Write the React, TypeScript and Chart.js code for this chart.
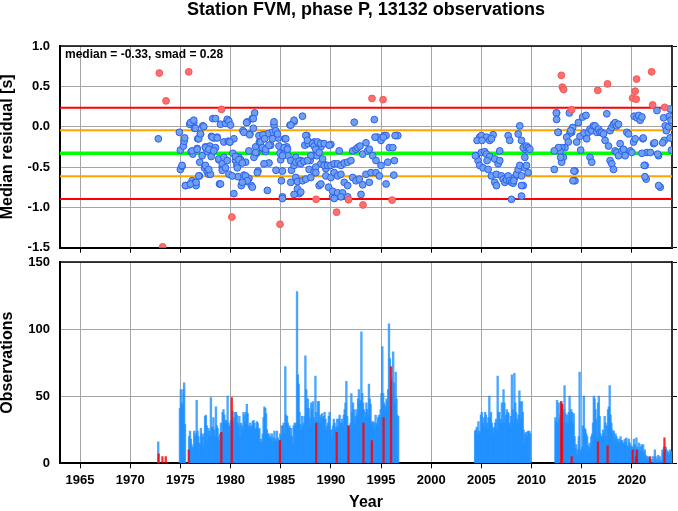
import React, { useEffect, useRef } from "react";
import { Chart, registerables } from "chart.js";
Chart.register(...registerables);

const TITLE = "Station FVM, phase P, 13132 observations";
const STATS_LABEL = "median = -0.33, smad = 0.28";
const X_LABEL = "Year";
const Y_TOP_LABEL = "Median residual [s]";
const Y_BOTTOM_LABEL = "Observations";
const X_MIN = 1963;
const X_MAX = 2024;
const X_TICKS = [1965, 1970, 1975, 1980, 1985, 1990, 1995, 2000, 2005, 2010, 2015, 2020];
const RESID_MIN = -1.5;
const RESID_MAX = 1.0;
const RESID_STEP = 0.5;
const OBS_MIN = 0;
const OBS_MAX = 150;
const OBS_STEP = 50;

const RED_LINE_LEVELS = [0.235, -0.895];
const ORANGE_LINE_LEVELS = [-0.045, -0.615];
const MEDIAN_LEVEL = -0.33;

// [year, median residual]
const inliers: [number, number][] = [
  [1972.8, -0.15], [1974.9, -0.07], [1975.0, -0.29], [1975.0, -0.53], [1975.17, -0.49], [1975.3, -0.24],
  [1975.37, -0.18], [1975.43, -0.14], [1975.53, -0.73], [1975.93, 0.03], [1976.33, 0.05], [1976.4, -0.02],
  [1976.07, -0.31], [1976.23, -0.34], [1976.17, -0.67], [1975.9, -0.72], [1976.5, -0.69], [1976.57, -0.73],
  [1976.67, -0.27], [1976.73, -0.15], [1976.9, -0.61], [1977.0, -0.09], [1976.93, -0.44], [1977.23, 0.01],
  [1977.4, -0.51], [1977.5, -0.25], [1977.67, -0.56], [1977.83, -0.59], [1977.67, -0.31], [1977.93, -0.24],
  [1978.07, -0.37], [1978.23, 0.10], [1978.1, -0.12], [1978.33, -0.14], [1978.5, -0.26], [1978.67, -0.13],
  [1978.83, -0.41], [1978.9, -0.71], [1979.0, 0.03], [1979.17, -0.50], [1979.17, -0.54], [1979.33, -0.19],
  [1979.5, 0.04], [1979.67, 0.09], [1979.77, -0.18], [1979.83, 0.07], [1979.93, -0.19], [1980.0, 0.02],
  [1980.23, -0.33], [1980.33, -0.83], [1980.5, -0.42], [1980.63, -0.48], [1980.73, -0.62], [1980.83, -0.38],
  [1981.0, -0.41], [1981.07, -0.73], [1981.23, -0.05], [1981.33, -0.60], [1981.5, -0.44], [1981.6, -0.68],
  [1981.67, 0.06], [1981.83, -0.64], [1981.93, -0.09], [1982.07, -0.73], [1982.17, 0.10], [1982.27, -0.02],
  [1982.4, 0.17], [1982.5, -0.25], [1982.6, -0.33], [1982.73, -0.55], [1982.87, -0.19], [1983.0, -0.11],
  [1983.17, -0.27], [1983.33, -0.13], [1983.5, -0.31], [1983.67, -0.79], [1983.83, -0.45], [1984.0, -0.23],
  [1984.13, -0.07], [1984.33, 0.02], [1984.53, -0.54], [1984.73, -0.14], [1984.93, -0.33], [1985.07, -0.67],
  [1985.17, -0.87], [1985.27, -0.34], [1985.4, -0.15], [1985.6, -0.25], [1985.73, -0.36], [1985.93, 0.02],
  [1986.07, -0.54], [1986.33, 0.06], [1986.5, -0.38], [1986.67, -0.67], [1986.83, -0.83], [1987.0, -0.42],
  [1987.17, 0.13], [1987.4, -0.23], [1987.6, -0.11], [1987.73, -0.21], [1987.93, -0.42], [1988.17, -0.36],
  [1988.33, -0.19], [1988.6, -0.36], [1988.83, -0.73], [1989.0, -0.25], [1989.27, -0.46], [1989.5, -0.52],
  [1989.77, -0.75], [1990.0, -0.22], [1990.17, -0.87],
  [1978.5, 0.10], [1980.33, -0.15], [1979.93, -0.19], [1980.5, -0.37], [1980.83, -0.41], [1981.17, -0.45],
  [1980.67, -0.51], [1981.5, -0.61], [1981.67, -0.67], [1981.17, -0.69], [1982.17, -0.75], [1982.67, -0.57],
  [1982.33, -0.38], [1981.83, -0.30], [1982.5, -0.32], [1983.0, -0.19], [1982.83, -0.11], [1983.17, -0.26],
  [1983.33, -0.46], [1983.5, -0.28], [1983.67, -0.09], [1983.83, -0.23], [1984.17, -0.15], [1984.33, 0.06],
  [1984.5, -0.05], [1984.67, -0.09], [1984.83, -0.24], [1985.0, -0.41], [1985.17, -0.55], [1981.33, -0.07],
  [1981.6, 0.05], [1982.27, 0.10], [1981.9, -0.10], [1983.23, -0.10], [1983.4, -0.15],
  [1976.0, 0.05], [1976.33, 0.08], [1977.33, 0.0], [1976.5, -0.02], [1976.83, -0.15], [1977.0, -0.09],
  [1978.17, -0.13], [1978.67, -0.14], [1976.17, -0.30], [1976.67, -0.28], [1977.17, -0.36], [1977.5, -0.26],
  [1977.83, -0.28], [1978.33, -0.30], [1978.83, -0.40], [1979.17, -0.46], [1979.33, -0.38], [1979.5, -0.51],
  [1979.83, -0.59], [1980.17, -0.61], [1977.5, -0.48], [1978.0, -0.59], [1976.83, -0.61], [1975.5, -0.73],
  [1976.0, -0.71], [1976.57, -0.69], [1979.0, -0.71], [1975.17, -0.48], [1977.83, -0.53], [1979.67, -0.42],
  [1986.33, 0.08], [1986.0, 0.02], [1985.5, -0.15], [1985.33, -0.26], [1985.67, -0.28], [1985.17, -0.36],
  [1986.0, -0.42], [1986.33, -0.48], [1986.5, -0.44], [1986.83, -0.43], [1987.0, -0.46], [1987.33, -0.43],
  [1987.5, -0.11], [1987.67, -0.17], [1988.17, -0.21], [1988.33, -0.24], [1988.67, -0.19], [1989.0, -0.21],
  [1989.33, -0.21], [1989.83, -0.23], [1988.5, -0.28], [1988.83, -0.32], [1988.0, -0.36], [1987.67, -0.42],
  [1987.83, -0.53], [1988.33, -0.56], [1988.5, -0.50], [1989.0, -0.46], [1989.17, -0.40], [1989.33, -0.48],
  [1989.67, -0.48], [1990.0, -0.48], [1990.33, -0.46], [1990.67, -0.46], [1990.83, -0.30], [1991.0, -0.48],
  [1991.33, -0.45], [1991.67, -0.44], [1992.0, -0.42], [1992.17, -0.30], [1992.5, -0.28], [1992.67, -0.26],
  [1992.9, -0.24], [1993.17, -0.34], [1993.5, -0.20], [1993.67, -0.30], [1993.83, -0.28], [1994.17, -0.36],
  [1994.5, -0.42], [1994.67, -0.13], [1995.0, -0.17], [1995.33, -0.11], [1995.5, -0.11], [1995.83, -0.26],
  [1996.17, -0.26], [1996.5, -0.11], [1996.67, -0.11], [1996.33, -0.42], [1992.33, 0.055], [1994.33, 0.088],
  [1986.5, -0.63], [1986.0, -0.69], [1986.67, -0.68], [1987.17, -0.67], [1987.5, -0.65], [1988.0, -0.63],
  [1988.5, -0.57], [1989.0, -0.71], [1989.5, -0.61], [1990.0, -0.63], [1990.33, -0.57], [1990.67, -0.61],
  [1991.0, -0.59], [1991.33, -0.69], [1991.67, -0.73], [1992.17, -0.63], [1992.5, -0.67], [1992.83, -0.65],
  [1993.17, -0.72], [1993.5, -0.59], [1993.83, -0.69], [1994.0, -0.57], [1994.5, -0.57], [1994.83, -0.61],
  [1995.5, -0.71], [1996.27, -0.60], [1986.67, -0.77], [1987.0, -0.81], [1986.33, -0.84], [1990.17, -0.80],
  [1990.67, -0.82], [1991.17, -0.82], [1991.67, -0.87], [1993.0, -0.84], [1985.17, -0.89], [1990.33, -0.89],
  [1991.0, -0.87], [1995.0, -0.48], [1995.67, -0.44], [1996.4, -0.11], [1995.23, -0.13], [1994.4, -0.13],
  [2004.83, -0.13], [2005.0, -0.11], [2005.5, -0.13], [2005.83, -0.17], [2006.17, -0.10], [2006.0, -0.15],
  [2004.5, -0.36], [2004.67, -0.42], [2004.83, -0.48], [2005.17, -0.51], [2005.0, -0.32], [2005.33, -0.31],
  [2005.5, -0.34], [2005.83, -0.37], [2005.67, -0.53], [2006.0, -0.61], [2006.33, -0.69], [2006.5, -0.73],
  [2006.33, -0.40], [2006.67, -0.46], [2006.83, -0.42], [2006.5, -0.59], [2007.0, -0.61], [2007.17, -0.65],
  [2007.33, -0.69], [2007.5, -0.66], [2007.67, -0.61], [2007.83, -0.67], [2008.0, -0.69], [2008.17, -0.70],
  [2008.33, -0.63], [2008.5, -0.59], [2008.67, -0.53], [2008.83, -0.48], [2009.0, -0.61], [2009.17, -0.73],
  [2009.33, -0.51], [2009.5, -0.48], [2009.67, -0.57], [2008.0, -0.90], [2009.0, -0.86], [2008.83, 0.01],
  [2008.67, -0.09], [2009.0, -0.17], [2007.67, -0.11], [2007.83, -0.17], [2009.33, -0.28], [2009.17, -0.26],
  [2009.5, -0.24], [2009.67, -0.26], [2009.83, -0.28], [2009.33, -0.38], [2006.83, -0.30], [2004.4, -0.36],
  [2004.57, -0.17], [2005.07, -0.17], [2005.57, -0.42], [2008.23, -0.67], [2009.0, -0.73],
  [2012.5, 0.17], [2012.67, -0.07], [2013.77, 0.17], [2014.1, -0.01], [2014.0, -0.07], [2013.83, -0.08],
  [2013.5, -0.13], [2013.67, -0.19], [2013.33, -0.26], [2013.0, -0.26], [2012.83, -0.30], [2012.67, -0.26],
  [2013.17, -0.38], [2013.0, -0.44], [2014.33, -0.55], [2014.33, -0.67], [2014.5, -0.19], [2014.67, 0.05],
  [2014.83, -0.12], [2014.9, -0.29], [2015.1, 0.12], [2015.43, 0.14], [2015.23, -0.08], [2015.5, -0.15],
  [2015.67, -0.07], [2015.83, -0.03], [2016.0, -0.05], [2015.83, -0.38], [2016.0, -0.44], [2016.17, 0.01],
  [2016.33, 0.01], [2016.5, -0.07], [2016.67, -0.03], [2016.83, -0.07], [2017.0, -0.07], [2017.17, -0.09],
  [2017.33, -0.17], [2017.5, 0.16], [2017.67, -0.24], [2017.83, -0.05], [2018.0, -0.01], [2018.17, 0.03],
  [2018.33, 0.05], [2018.5, 0.01], [2018.67, 0.03], [2017.83, -0.42], [2018.0, -0.46], [2018.17, -0.53],
  [2018.33, -0.30], [2018.5, -0.32], [2018.67, -0.36], [2018.83, -0.21], [2019.0, -0.30], [2019.17, -0.28],
  [2019.33, -0.36], [2019.5, -0.07], [2019.67, -0.09], [2019.83, -0.30], [2020.0, -0.32], [2020.17, -0.19],
  [2020.33, -0.15], [2020.23, 0.13], [2020.5, 0.11], [2020.67, 0.14], [2020.83, 0.08], [2021.0, 0.12],
  [2021.1, -0.15], [2021.33, -0.48], [2021.43, -0.65], [2021.5, -0.32], [2021.83, -0.32], [2022.17, -0.21],
  [2022.67, -0.36], [2022.83, -0.75], [2022.5, 0.20], [2023.17, 0.11], [2023.33, 0.01], [2023.43, -0.05],
  [2023.67, 0.0], [2023.83, 0.22], [2023.98, 0.05], [2023.98, -0.13], [2023.23, -0.17], [2023.95, -0.29],
  [2023.73, 0.13], [2023.9, 0.08], [2023.8, -0.14], [2023.07, -0.20], [2022.67, -0.73], [2022.57, -0.34],
  [2022.27, -0.20], [2021.23, -0.48], [2021.3, -0.62], [2021.13, -0.14], [2021.0, -0.33], [2012.47, 0.17],
  [2012.5, 0.09], [2012.63, -0.07], [2012.27, -0.53], [2012.27, -0.30], [2012.9, -0.38], [2013.9, -0.05],
  [2014.23, -0.55], [2014.13, -0.67],
];

const outliers: [number, number][] = [
  [1972.9, 0.665], [1973.23, -1.49], [1973.57, 0.32], [1975.83, 0.68], [1979.1, 0.215], [1980.13, -1.12],
  [1984.93, -1.21], [1988.53, -0.90], [1990.57, -1.06], [1991.75, -0.905], [1993.2, -0.97], [1994.1, 0.35],
  [1995.2, 0.335], [1996.1, -0.91], [2012.97, 0.636], [2013.07, 0.49], [2013.2, 0.46], [2014.0, 0.21],
  [2016.6, 0.45], [2017.57, 0.53], [2020.07, 0.355], [2020.33, 0.44], [2020.43, 0.34], [2020.47, 0.59],
  [2021.97, 0.68], [2022.07, 0.27], [2023.27, 0.24],
];

// monthly observation counts: segment start (year + month/12) and values
const obsStart1972 = 1972 + 9 / 12;
const obs1972 = [16];
const obsStart1974 = 1974 + 11 / 12;
const obs1974to1996 = [
  41,
  55, 45, 43, 55, 60, 29, 0, 0, 0, 0, 20, 24,
  18, 14, 11, 12, 24, 20, 22, 47, 24, 20, 15, 14,
  26, 22, 20, 12, 22, 35, 36, 28, 17, 26, 24, 20,
  49, 26, 27, 34, 25, 20, 42, 28, 26, 20, 17, 22,
  30, 23, 38, 40, 36, 32, 30, 32, 50, 30, 28, 27,
  32, 31, 39, 30, 34, 38, 38, 36, 30, 28, 35, 20,
  30, 28, 25, 38, 36, 30, 38, 44, 37, 28, 26, 30,
  27, 28, 31, 32, 30, 25, 26, 31, 30, 25, 26, 16,
  18, 16, 22, 34, 42, 41, 37, 25, 22, 18, 22, 20,
  18, 22, 16, 19, 24, 18, 16, 24, 19, 16, 17, 22,
  20, 28, 28, 30, 22, 72, 36, 35, 30, 26, 28, 22,
  26, 20, 15, 28, 30, 28, 30, 128, 66, 59, 38, 29,
  25, 35, 28, 30, 35, 80, 55, 41, 48, 41, 34, 28,
  45, 40, 46, 34, 30, 65, 38, 31, 46, 46, 30, 36,
  34, 37, 33, 35, 38, 33, 25, 28, 30, 35, 38, 25,
  25, 20, 28, 33, 30, 25, 27, 33, 27, 33, 36, 30,
  30, 33, 28, 36, 40, 45, 61, 35, 28, 26, 28, 30,
  52, 38, 45, 40, 30, 35, 40, 36, 48, 55, 45, 47,
  98, 52, 45, 40, 34, 38, 45, 40, 36, 59, 48, 44,
  31, 28, 31, 30, 26, 36, 30, 28, 34, 36, 34, 40,
  52, 87, 52, 45, 43, 40, 48, 46, 55, 104, 78, 50,
  62, 50, 83, 60, 45, 68, 48, 36, 35,
];
const obsStart2004 = 2004 + 4 / 12;
const obs2004to2009 = [
  24, 25, 27, 22, 31, 24, 22, 36,
  38, 30, 34, 28, 38, 36, 30, 26, 34, 50, 34, 38,
  30, 27, 22, 26, 30, 33, 25, 65, 38, 38, 30, 33,
  45, 30, 55, 45, 30, 36, 40, 38, 37, 30, 28, 35,
  66, 40, 30, 67, 45, 38, 33, 30, 36, 54, 46, 33,
  46, 38, 25, 15, 22, 23, 20, 24, 23, 24, 22,
];
const obsStart2012 = 2012 + 4 / 12;
const obs2012to2023 = [
  34, 31, 47, 30, 45, 33, 36, 46,
  44, 30, 40, 58, 37, 30, 36, 28, 38, 50, 32, 40,
  38, 30, 37, 20, 11, 14, 6, 10, 20, 68, 10, 8,
  12, 28, 50, 26, 25, 22, 20, 13, 10, 15, 12, 20,
  22, 30, 50, 48, 40, 33, 20, 45, 50, 35, 22, 20,
  20, 25, 22, 35, 30, 20, 28, 40, 42, 58, 36, 30,
  25, 22, 24, 18, 22, 20, 18, 16, 18, 15, 20, 17,
  17, 15, 14, 18, 16, 19, 13, 12, 18, 15, 12, 13,
  10, 12, 18, 14, 10, 19, 12, 10, 15, 9, 12, 14,
  9, 14, 8, 10, 6, 5, 3, 5, 4, 0, 3, 0,
  0, 5, 2, 10, 5, 0, 3, 6, 0, 5, 0, 2,
  10, 8, 12, 10, 12, 10, 9, 8, 6, 10, 8, 9,
];
// observations of outlier residuals: [year, count]
const outlierObs: [number, number][] = [
  [1972.83, 7], [1973.21, 5], [1973.54, 5], [1975.83, 10], [1979.08, 23], [1980.12, 49], [1984.92, 17],
  [1988.54, 30], [1990.58, 23], [1991.75, 28], [1993.25, 30], [1994.08, 17], [1995.25, 34], [1996.0, 72],
  [2012.96, 46], [2013.04, 44], [2014.0, 5], [2016.62, 16], [2017.58, 13], [2020.08, 10], [2020.42, 5],
  [2020.5, 10], [2021.83, 5], [2023.25, 19],
];

const FONT = "'Liberation Sans', Arial, Helvetica, sans-serif";
const GRID = "rgb(165,165,165)";

function monthly(start: number, values: number[]) {
  return values.map((v, i) => ({ x: start + (i + 0.5) / 12, y: v }));
}

const frameAndText = (withTitle: boolean) => ({
  id: "frameAndText" + (withTitle ? "T" : "B"),
  afterDraw(chart: any) {
    const { ctx, chartArea } = chart;
    ctx.save();
    ctx.strokeStyle = "#000";
    ctx.lineWidth = 1.5;
    ctx.beginPath();
    ctx.moveTo(chartArea.left, chartArea.top);
    ctx.lineTo(chartArea.right, chartArea.top);
    ctx.stroke();
    if (withTitle) {
      ctx.fillStyle = "#000";
      ctx.textBaseline = "alphabetic";
      ctx.textAlign = "center";
      ctx.font = `bold 18px ${FONT}`;
      ctx.fillText(TITLE, (chartArea.left + chartArea.right) / 2, 14.5);
      ctx.textAlign = "left";
      ctx.font = `bold 12px ${FONT}`;
      ctx.fillText(STATS_LABEL, chartArea.left + 5, chartArea.top + 12);
    }
    ctx.restore();
  },
});

const tickFont = { family: FONT, size: 13, weight: "bold" as const };
const titleFont = { family: FONT, size: 16, weight: "bold" as const, lineHeight: 1 };

function xTicksBuilder(axis: any) {
  axis.ticks = X_TICKS.map((v) => ({ value: v }));
}

export default function App() {
  const topRef = useRef<HTMLCanvasElement>(null);
  const botRef = useRef<HTMLCanvasElement>(null);

  useEffect(() => {
    const hline = (y: number, color: string, width: number) => ({
      type: "line" as const,
      data: [{ x: X_MIN, y }, { x: X_MAX, y }],
      borderColor: color,
      borderWidth: width,
      pointRadius: 0,
      order: 3,
    });
    const leftGrid = { color: GRID, drawTicks: true, tickLength: 10, tickColor: "rgba(0,0,0,0)" };
    const top = new Chart(topRef.current!, {
      type: "scatter",
      data: {
        datasets: [
          ...RED_LINE_LEVELS.map((v) => hline(v, "rgb(255,0,0)", 2)),
          ...ORANGE_LINE_LEVELS.map((v) => hline(v, "rgb(255,165,0)", 2)),
          hline(MEDIAN_LEVEL, "rgb(0,255,0)", 3.5),
          {
            data: inliers.map(([x, y]) => ({ x, y })),
            backgroundColor: "rgb(110,160,242)",
            borderColor: "rgb(45,95,235)",
            borderWidth: 1,
            pointRadius: 3.4,
            order: 1,
          },
          {
            data: outliers.map(([x, y]) => ({ x, y })),
            backgroundColor: "rgb(255,110,110)",
            borderColor: "rgb(245,85,85)",
            borderWidth: 1,
            pointRadius: 3.4,
            order: 0,
          },
        ] as any,
      },
      options: {
        animation: false,
        responsive: false,
        layout: { padding: { top: 46, left: 0, right: 0, bottom: 0 } },
        plugins: { legend: { display: false }, tooltip: { enabled: false } },
        scales: {
          x: {
            type: "linear",
            min: X_MIN,
            max: X_MAX,
            afterBuildTicks: xTicksBuilder,
            ticks: { display: false },
            grid: { color: GRID, tickColor: "#000", tickLength: 5 },
            border: { display: true, color: "#000", width: 2 },
            afterFit: (s: any) => { s.height = 8.3; },
          },
          y: {
            type: "linear",
            min: RESID_MIN,
            max: RESID_MAX,
            ticks: {
              stepSize: RESID_STEP,
              padding: 0,
              color: "#000",
              font: tickFont,
              callback: (v: any) => Number(v).toFixed(1),
            },
            grid: leftGrid,
            border: { display: true, color: "#000", width: 2 },
            title: { display: true, text: Y_TOP_LABEL, color: "#000", font: titleFont, padding: 0 },
            afterFit: (s: any) => { s.width = 60; },
          },
          yR: {
            type: "linear",
            position: "right",
            min: RESID_MIN,
            max: RESID_MAX,
            ticks: { display: false, stepSize: RESID_STEP, padding: 0 },
            grid: { drawOnChartArea: false, tickLength: 5, tickColor: "#000" },
            border: { display: true, color: "#333", width: 2 },
            afterFit: (s: any) => { s.width = 6; },
          },
        },
      } as any,
      plugins: [frameAndText(true)],
    });

    const obsBars = [
      ...monthly(obsStart1972, obs1972),
      ...monthly(obsStart1974, obs1974to1996),
      ...monthly(obsStart2004, obs2004to2009),
      ...monthly(obsStart2012, obs2012to2023),
    ];
    const bottom = new Chart(botRef.current!, {
      type: "bar",
      data: {
        datasets: [
          {
            data: outlierObs.map(([x, y]) => ({ x, y })),
            backgroundColor: "rgba(255,0,0,0.85)",
            barThickness: 1.6,
            grouped: false,
            order: 0,
          },
          {
            data: obsBars,
            backgroundColor: "rgba(30,144,255,0.8)",
            barThickness: 1.7,
            grouped: false,
            order: 1,
          },
        ] as any,
      },
      options: {
        animation: false,
        responsive: false,
        layout: { padding: { top: 10, left: 0, right: 0, bottom: 0 } },
        plugins: { legend: { display: false }, tooltip: { enabled: false } },
        scales: {
          x: {
            type: "linear",
            min: X_MIN,
            max: X_MAX,
            offset: false,
            afterBuildTicks: xTicksBuilder,
            ticks: {
              padding: 4,
              color: "#000",
              font: tickFont,
              autoSkip: false,
              maxRotation: 0,
              callback: (v: any) => String(v),
            },
            grid: { color: GRID, tickColor: "#000", tickLength: 5, offset: false },
            border: { display: true, color: "#000", width: 2 },
            title: { display: true, text: X_LABEL, color: "#000", font: titleFont, padding: 0 },
            afterFit: (s: any) => { s.height = 47.7; },
          },
          y: {
            type: "linear",
            min: OBS_MIN,
            max: OBS_MAX,
            ticks: { stepSize: OBS_STEP, padding: 0, color: "#000", font: tickFont },
            grid: leftGrid,
            border: { display: true, color: "#000", width: 2 },
            title: { display: true, text: Y_BOTTOM_LABEL, color: "#000", font: titleFont, padding: 0 },
            afterFit: (s: any) => { s.width = 60; },
          },
          yR: {
            type: "linear",
            position: "right",
            min: OBS_MIN,
            max: OBS_MAX,
            ticks: { display: false, stepSize: OBS_STEP, padding: 0 },
            grid: { drawOnChartArea: false, tickLength: 5, tickColor: "#000" },
            border: { display: true, color: "#333", width: 2 },
            afterFit: (s: any) => { s.width = 6; },
          },
        },
      } as any,
      plugins: [frameAndText(false)],
    });

    return () => {
      top.destroy();
      bottom.destroy();
    };
  }, []);

  return (
    <div style={{ position: "fixed", left: 0, top: 0, width: 678, height: 511, background: "#fff", overflow: "hidden" }}>
      <canvas ref={topRef} width={678} height={256} style={{ position: "absolute", left: 0, top: 0, width: 678, height: 256 }} />
      <canvas ref={botRef} width={678} height={259} style={{ position: "absolute", left: 0, top: 252, width: 678, height: 259 }} />
    </div>
  );
}
